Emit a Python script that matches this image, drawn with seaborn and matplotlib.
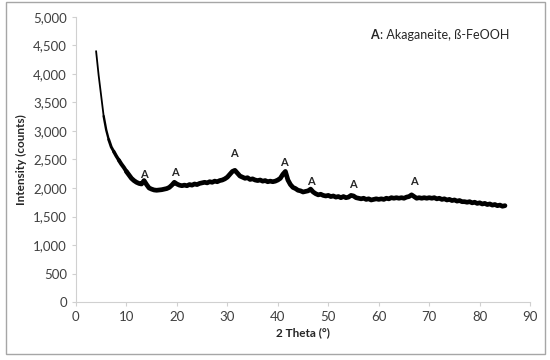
import numpy as np
import pandas as pd
import matplotlib.pyplot as plt
import matplotlib.ticker as mticker
from matplotlib.patches import Rectangle
import seaborn as sns

# --- Data (0.5 degree steps from 4 to 85) ---
two_theta = np.arange(4.0, 85.01, 0.5)
counts = [
    4400, 3980, 3620, 3260, 3020, 2850, 2720, 2640, 2560, 2490,   # 4.0 - 8.5
    2420, 2360, 2290, 2230, 2170, 2130, 2100, 2080, 2070, 2130,   # 9.0 - 13.5
    2060, 2000, 1980, 1965, 1960, 1965, 1970, 1980, 1990, 2010,   # 14.0 - 18.5
    2050, 2100, 2070, 2050, 2040, 2050, 2040, 2060, 2050, 2070,   # 19.0 - 23.5
    2060, 2080, 2090, 2100, 2090, 2110, 2100, 2120, 2110, 2130,   # 24.0 - 28.5
    2140, 2160, 2190, 2240, 2290, 2310, 2260, 2210, 2190, 2170,   # 29.0 - 33.5
    2180, 2150, 2160, 2140, 2130, 2140, 2120, 2130, 2110, 2120,   # 34.0 - 38.5
    2110, 2120, 2140, 2170, 2240, 2290, 2140, 2060, 2010, 1990,   # 39.0 - 43.5
    1960, 1950, 1930, 1940, 1950, 1980, 1930, 1900, 1880, 1890,   # 44.0 - 48.5
    1870, 1860, 1870, 1850, 1860, 1840, 1850, 1830, 1850, 1830,   # 49.0 - 53.5
    1840, 1870, 1860, 1830, 1820, 1810, 1820, 1800, 1810, 1790,   # 54.0 - 58.5
    1800, 1810, 1800, 1810, 1800, 1820, 1810, 1830, 1820, 1830,   # 59.0 - 63.5
    1820, 1830, 1820, 1840, 1850, 1880, 1850, 1820, 1830, 1820,   # 64.0 - 68.5
    1830, 1820, 1830, 1820, 1830, 1810, 1820, 1800, 1810, 1790,   # 69.0 - 73.5
    1800, 1780, 1790, 1770, 1780, 1760, 1760, 1750, 1760, 1740,   # 74.0 - 78.5
    1750, 1730, 1740, 1720, 1730, 1710, 1720, 1700, 1710, 1690,   # 79.0 - 83.5
    1700, 1680, 1690,                                             # 84.0 - 85.0
]

# akaganeite peak markers
peak_pos = [13.5, 19.6, 31.4, 41.2, 46.6, 54.9, 66.9]
peak_lbl_y = [2245, 2280, 2600, 2440, 2120, 2070, 2120]

df = pd.DataFrame({'two_theta': two_theta, 'counts': counts})

# --- Plot ---
sns.set_style('white')
plt.rcParams['font.family'] = ['Lato', 'DejaVu Sans']

fig = plt.figure(figsize=(5.5, 3.6), dpi=100)
ax = fig.add_axes([0.138, 0.161, 0.826, 0.792])

# the noise band gets wider as the counts level off, so draw the trace in pieces
pieces = [(4.0, 5.5, 1.3), (5.5, 6.5, 1.7), (6.5, 7.5, 2.1), (7.5, 8.5, 2.5),
          (8.5, 10.0, 2.9), (10.0, 85.0, 3.4)]
for lo, hi, lw in pieces:
    part = df[(df['two_theta'] >= lo) & (df['two_theta'] <= hi)]
    sns.lineplot(data=part, x='two_theta', y='counts', ax=ax, color='black',
                 linewidth=lw, solid_capstyle='round', solid_joinstyle='round')

for xp, yp in zip(peak_pos, peak_lbl_y):
    ax.text(xp, yp, 'A', ha='center', va='center', fontsize=8, fontweight='bold')

# legend-like note: bold "A" followed by the description
t1 = ax.text(0.648, 0.937, 'A', transform=ax.transAxes, fontsize=9, fontweight='bold',
             va='center', ha='left')
ax.annotate(': Akaganeite, ß-FeOOH', xy=(1, 0.5), xycoords=t1, xytext=(0.5, 0),
            textcoords='offset points', fontsize=9, va='center', ha='left')

ax.set_xlim(0, 90)
ax.set_ylim(0, 5000)
ax.set_xticks(range(0, 91, 10))
ax.set_yticks(range(0, 5001, 500))
ax.yaxis.set_major_formatter(mticker.FuncFormatter(lambda v, p: f'{int(v):,}'))
ax.tick_params(axis='both', labelsize=9.5, colors='#d0d0d0', labelcolor='#404040',
               length=3, width=0.8, direction='out', bottom=True, left=True)

ax.set_xlabel('2 Theta (°)', fontsize=8.5, fontweight='bold', labelpad=3)
ax.set_ylabel('Intensity (counts)', fontsize=8.5, fontweight='bold', labelpad=4)

sns.despine(ax=ax)
for s in ['left', 'bottom']:
    ax.spines[s].set_color('#d0d0d0')
    ax.spines[s].set_linewidth(0.8)

# outer chart frame
fig.patches.append(Rectangle((6 / 550, 6 / 360), 539 / 550, 352 / 360, transform=fig.transFigure,
                             fill=False, edgecolor='#a6a6a6', linewidth=1))

fig.savefig('out.png', dpi=100)
